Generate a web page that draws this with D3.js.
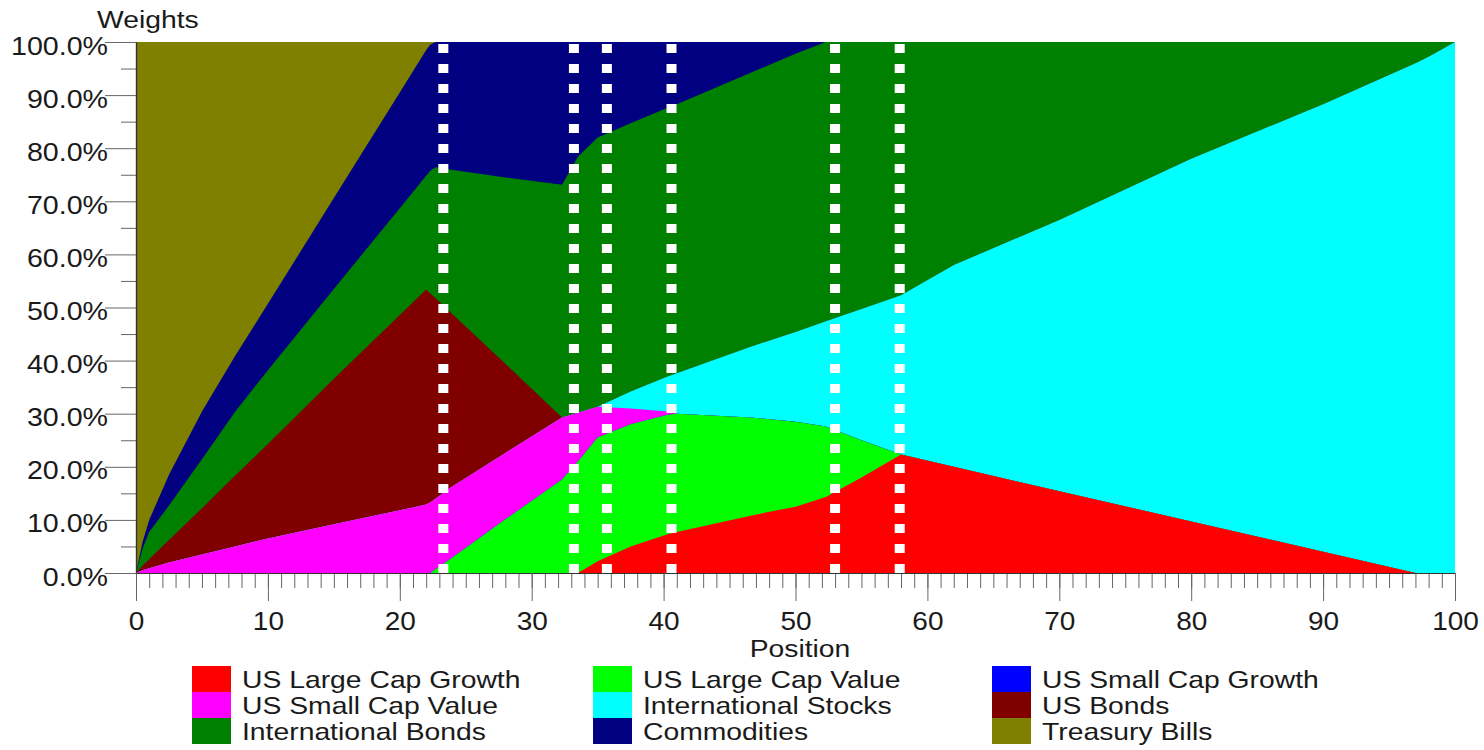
<!DOCTYPE html>
<html>
<head>
<meta charset="utf-8">
<script src="https://cdn.jsdelivr.net/npm/d3@7"></script>
<style>
  html, body { margin: 0; padding: 0; background: #ffffff; }
  svg text { font-family: "Liberation Sans", Arial, sans-serif; fill: #1a1a1a; }
</style>
</head>
<body>
<svg id="chart" width="1484" height="750"></svg>
<script>
// Portfolio position along the frontier (0 = lowest risk, 100 = highest)
const positions = [0, 0.5, 1, 2.5, 5, 7.5, 10, 15, 20, 22, 22.3, 22.7, 23.8, 28, 32.3, 33.5, 35, 37.5, 40.3, 41, 46.6, 50, 52.3, 55, 58, 62, 70, 80, 90, 97, 98, 100];

// Asset weights (%) at each position
const usLargeCapGrowth = [0, 0, 0, 0, 0, 0, 0, 0, 0, 0, 0, 0, 0, 0, 0, 0, 2.2, 5, 7.3, 7.7, 10.8, 12.5, 14.3, 18, 22.3, 20, 15.4, 9.7, 4, 0, 0, 0];
const usLargeCapValue  = [0, 0, 0, 0, 0, 0, 0, 0, 0, 0, 0, 0.7, 2.6, 10.1, 17.6, 21, 23.3, 23, 22.5, 22.3, 18.5, 16, 13.3, 7, 0, 0, 0, 0, 0, 0, 0, 0];
const usSmallCapGrowth = [0, 0, 0, 0, 0, 0, 0, 0, 0, 0, 0, 0, 0, 0, 0, 0, 0, 0, 0, 0, 0, 0, 0, 0, 0, 0, 0, 0, 0, 0, 0, 0];
const usSmallCapValue  = [0, 0.5, 0.9, 2, 3.5, 5, 6.5, 9.2, 11.8, 12.9, 13.3, 13.3, 13.4, 12.5, 11.7, 9.2, 5.8, 3, 0.6, 0, 0, 0, 0, 0, 0, 0, 0, 0, 0, 0, 0, 0];
const intlStocks       = [0, 0, 0, 0, 0, 0, 0, 0, 0, 0, 0, 0, 0, 0, 0, 0, 0, 3.2, 6.6, 7.6, 13.3, 16.9, 19.8, 24.7, 30, 38, 51.1, 68.3, 84.3, 96, 97.2, 100];
const usBonds          = [0, 0.9, 1.7, 4.2, 8.7, 13.3, 17.8, 27.4, 36.8, 40.5, 39.4, 37.8, 33.2, 16.8, 0, 0, 0, 0, 0, 0, 0, 0, 0, 0, 0, 0, 0, 0, 0, 0, 0, 0];
const intlBonds        = [0, 3.2, 5.1, 6.5, 9.2, 12, 13.9, 16.9, 20.1, 21.4, 23, 24.6, 26.8, 35.1, 43.8, 48.2, 50.7, 50.5, 50.6, 50.7, 51.6, 52.4, 52.6, 50.3, 47.7, 42, 33.5, 22, 11.7, 4, 2.8, 0];
const commodities      = [0, 1.3, 2.3, 5.8, 9, 10.5, 12.5, 17.1, 21.8, 23.7, 23.8, 23.6, 24, 25.5, 26.9, 21.6, 18, 15.3, 12.4, 11.7, 5.8, 2.2, 0, 0, 0, 0, 0, 0, 0, 0, 0, 0];
const treasuryBills    = [100, 94.1, 90, 81.5, 69.6, 59.2, 49.3, 29.4, 9.5, 1.5, 0.5, 0, 0, 0, 0, 0, 0, 0, 0, 0, 0, 0, 0, 0, 0, 0, 0, 0, 0, 0, 0, 0];

const seriesNames = [
  "US Large Cap Growth", "US Large Cap Value", "US Small Cap Growth",
  "US Small Cap Value", "International Stocks", "US Bonds",
  "International Bonds", "Commodities", "Treasury Bills"
];
const seriesValues = [
  usLargeCapGrowth, usLargeCapValue, usSmallCapGrowth,
  usSmallCapValue, intlStocks, usBonds,
  intlBonds, commodities, treasuryBills
];
const seriesColors = [
  "#ff0000", "#00ff00", "#0000ff",
  "#ff00ff", "#00ffff", "#800000",
  "#008000", "#000080", "#808000"
];

// Corner portfolios marked with dotted verticals
const cornerPositions = [23.3, 33.2, 35.7, 40.6, 53.0, 57.9];

const yMajorTicks = [0, 0.1, 0.2, 0.3, 0.4, 0.5, 0.6, 0.7, 0.8, 0.9, 1.0];
const yMinorTicks = [0.05, 0.15, 0.25, 0.35, 0.45, 0.55, 0.65, 0.75, 0.85, 0.95];
const xMajorTicks = [0, 10, 20, 30, 40, 50, 60, 70, 80, 90, 100];
const xMinorTicks = d3.range(0, 101, 1);

const svg = d3.select("#chart");
const x = d3.scaleLinear().domain([0, 100]).range([136, 1455]);
const y = d3.scaleLinear().domain([0, 1]).range([573, 42]);

// Table of weights keyed by series
const rows = positions.map((p, i) => {
  const r = { position: p };
  seriesNames.forEach((name, j) => { r[name] = seriesValues[j][i] / 100; });
  return r;
});
const stacked = d3.stack().keys(seriesNames)(rows);

// Each band painted from the baseline up to its cumulative top, top-most first,
// so neighbouring bands overlap instead of leaving seams.
const area = d3.area()
  .x(d => x(d.data.position))
  .y0(y(0))
  .y1(d => y(d[1]))
  .curve(d3.curveLinear);

const plot = svg.append("g");
stacked.slice().reverse().forEach(s => {
  plot.append("path")
    .attr("d", area(s))
    .attr("fill", seriesColors[s.index]);
});

// Dotted corner-portfolio markers
svg.append("g").selectAll("line")
  .data(cornerPositions)
  .join("line")
  .attr("x1", d => x(d)).attr("x2", d => x(d))
  .attr("y1", y(0)).attr("y2", y(1))
  .attr("stroke", "#ffffff")
  .attr("stroke-width", 10)
  .attr("stroke-dasharray", "9 11");

// Helper: size a text element and stretch it horizontally about its anchor
function placeText(sel, anchorX, anchorY, size, stretch) {
  sel.attr("x", 0).attr("y", 0)
    .attr("font-size", size)
    .attr("transform", `translate(${anchorX},${anchorY}) scale(${stretch},1)`);
}

// Y axis
const yMinor = svg.append("g").attr("transform", `translate(${x(0)},0)`)
  .call(d3.axisLeft(y).tickValues(yMinorTicks).tickSize(15).tickSizeOuter(0).tickFormat(""));
const yAxis = svg.append("g").attr("transform", `translate(${x(0)},0)`)
  .call(d3.axisLeft(y).tickValues(yMajorTicks).tickSize(31).tickSizeOuter(0).tickFormat(d3.format(".1%")));
[yMinor, yAxis].forEach(g => {
  g.select(".domain").attr("stroke", "#333").attr("stroke-width", 1.2);
  g.selectAll(".tick line").attr("stroke", "#666");
});
yAxis.selectAll(".tick text")
  .attr("text-anchor", "end")
  .attr("dy", null)
  .each(function () {
    d3.select(this).call(placeText, -28, 12, 26, 1.1);
  });

// X axis
const xMinor = svg.append("g").attr("transform", `translate(0,${y(0)})`)
  .call(d3.axisBottom(x).tickValues(xMinorTicks).tickSize(15).tickSizeOuter(0).tickFormat(""));
const xAxis = svg.append("g").attr("transform", `translate(0,${y(0)})`)
  .call(d3.axisBottom(x).tickValues(xMajorTicks).tickSize(28).tickSizeOuter(0).tickFormat(d3.format("d")));
[xMinor, xAxis].forEach(g => {
  g.select(".domain").attr("stroke", "#333").attr("stroke-width", 1.2);
  g.selectAll(".tick line").attr("stroke", "#666");
});
xAxis.selectAll(".tick text")
  .attr("text-anchor", "middle")
  .attr("dy", null)
  .each(function () {
    d3.select(this).call(placeText, 0, 57, 25, 1.12);
  });

// Axis titles
svg.append("text").attr("text-anchor", "start")
  .text("Weights").call(placeText, 97, 28, 24, 1.18);
svg.append("text").attr("text-anchor", "middle")
  .text("Position").call(placeText, 800, 657, 24, 1.18);

// Legend: three columns, filled row by row
const legendCols = [192, 593, 992];
const legendTop = 666;
const rowH = 26;
const legend = svg.append("g");
seriesNames.forEach((name, i) => {
  const cx = legendCols[i % 3];
  const ry = legendTop + Math.floor(i / 3) * rowH;
  legend.append("rect")
    .attr("x", cx).attr("y", ry)
    .attr("width", 39).attr("height", rowH)
    .attr("fill", seriesColors[i]);
  legend.append("text")
    .text(name)
    .call(placeText, cx + 50, ry + 22, 24, 1.18);
});
</script>
</body>
</html>
